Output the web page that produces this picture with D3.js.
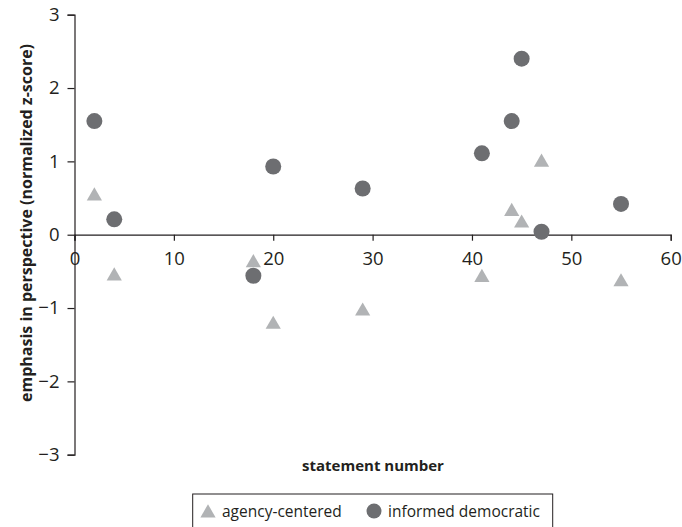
<!DOCTYPE html>
<html><head><meta charset="utf-8">
<script src="https://cdn.jsdelivr.net/npm/d3@7"></script>
<style>body{margin:0;background:#fff}svg{display:block}text{font-family:"Open Sans",Lato,sans-serif;fill:#231f20}</style>
</head><body>
<script>
const agencyX = [2, 4, 18, 20, 29, 41, 44, 45, 47, 55];
const agencyY = [0.54, -0.55, -0.37, -1.21, -1.03, -0.57, 0.33, 0.17, 1.00, -0.63];
const informedX = [2, 4, 18, 20, 29, 41, 44, 45, 47, 55];
const informedY = [1.55, 0.21, -0.56, 0.93, 0.63, 1.11, 1.55, 2.40, 0.04, 0.42];
const xTicks = [0, 10, 20, 30, 40, 50, 60];
const yTicks = [-3, -2, -1, 0, 1, 2, 3];
const seriesNames = ["agency-centered", "informed democratic"];

const W = 682, H = 527;
const svg = d3.select("body").append("svg").attr("width", W).attr("height", H);
const x = d3.scaleLinear().domain([0, 60]).range([74.5, 670.7]);
const y = d3.scaleLinear().domain([-3, 3]).range([454.7, 14.7]);
const axisColor = "#231f20";

// y axis
const yAx = svg.append("g").attr("transform", `translate(${x(0)},0)`)
  .call(d3.axisLeft(y).tickValues(yTicks).tickSize(7).tickPadding(8).tickFormat(d => d < 0 ? "\u2212" + Math.abs(d) : d));
// x axis at y=0
const xAx = svg.append("g").attr("transform", `translate(0,${y(0)})`)
  .call(d3.axisBottom(x).tickValues(xTicks).tickSize(6).tickPadding(11));
[yAx, xAx].forEach(g => {
  g.select(".domain").attr("stroke", axisColor).attr("stroke-width", 1.2);
  g.selectAll(".tick line").attr("stroke", axisColor).attr("stroke-width", 1.2);
  g.selectAll(".tick text").attr("font-size", 18.5).attr("fill", axisColor).style("font-family", "'Liberation Sans Narrow', 'Open Sans', sans-serif");
});

const triangle = d3.symbol().type(d3.symbolTriangle).size(100);
const agency = agencyX.map((v, i) => ({x: v, y: agencyY[i]}));
const informed = informedX.map((v, i) => ({x: v, y: informedY[i]}));

svg.append("g").selectAll("path").data(agency).join("path")
  .attr("d", triangle)
  .attr("transform", d => `translate(${x(d.x)},${y(d.y) + 1})`)
  .attr("fill", "#b1b3b5");
svg.append("g").selectAll("circle").data(informed).join("circle")
  .attr("cx", d => x(d.x)).attr("cy", d => y(d.y)).attr("r", 8)
  .attr("fill", "#6d6e71");

// axis titles
svg.append("text").attr("x", 373).attr("y", 471).attr("text-anchor", "middle")
  .attr("font-size", 15).attr("font-weight", "bold").text("statement number");
svg.append("text").attr("transform", "translate(32,223) rotate(-90)").attr("text-anchor", "middle")
  .attr("font-size", 16).attr("font-weight", "bold").text("emphasis in perspective (normalized z-score)");

// legend
const lg = svg.append("g");
lg.append("rect").attr("x", 192.7).attr("y", 494).attr("width", 360).attr("height", 40)
  .attr("fill", "none").attr("stroke", "#231f20").attr("stroke-width", 1);
lg.append("path").attr("d", triangle).attr("transform", "translate(208,513)").attr("fill", "#b1b3b5");
lg.append("text").attr("x", 222).attr("y", 517).attr("font-size", 15.5).text(seriesNames[0]);
lg.append("circle").attr("cx", 374).attr("cy", 511).attr("r", 7.5).attr("fill", "#6d6e71");
lg.append("text").attr("x", 388).attr("y", 517).attr("font-size", 15.5).text(seriesNames[1]);
</script>
</body></html>
